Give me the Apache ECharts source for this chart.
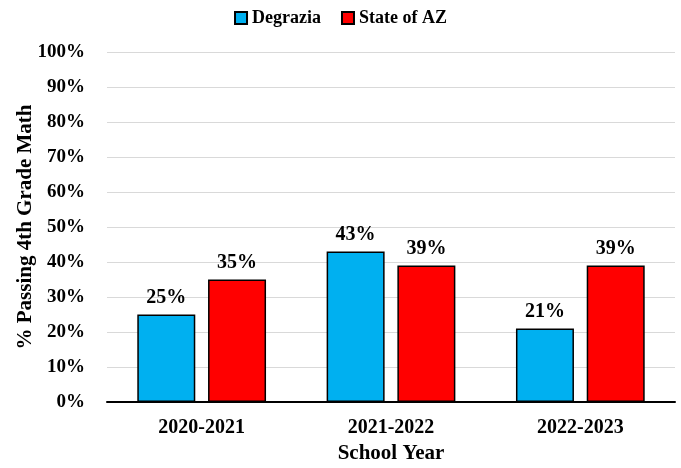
<!DOCTYPE html>
<html><head><meta charset="utf-8">
<script src="https://cdn.jsdelivr.net/npm/echarts@6/dist/echarts.min.js"></script>
<style>html,body{margin:0;padding:0;background:#fff}#c{width:681px;height:468px}</style>
</head><body><div id="c"></div>
<script>
const categories = ['2020-2021', '2021-2022', '2022-2023'];
const degrazia = [25, 43, 21];
const stateAZ = [35, 39, 39];
const seriesNames = ['Degrazia', 'State of AZ'];

const font = 'Liberation Serif, Times New Roman, serif';
const chart = echarts.init(document.getElementById('c'));
const lbl = {show: true, position: 'top', distance: 7, formatter: p => p.value + '%',
  fontFamily: font, fontWeight: 'bold', fontSize: 20, color: '#000'};
chart.setOption({
  animation: false,
  legend: {top: 4, left: 'center', itemWidth: 12, itemHeight: 12, itemGap: 20,
    icon: 'rect',
    textStyle: {fontFamily: font, fontWeight: 'bold', fontSize: 18, color: '#000'},
    data: seriesNames},
  grid: {left: 107, right: 6, top: 52, bottom: 66, containLabel: false, outerBoundsMode: 'none'},
  xAxis: {type: 'category', data: categories,
    name: 'School Year', nameLocation: 'middle', nameGap: 41,
    nameTextStyle: {fontFamily: font, fontWeight: 'bold', fontSize: 21, color: '#000'},
    axisLine: {lineStyle: {color: '#000', width: 2}}, axisTick: {show: false},
    axisLabel: {fontFamily: font, fontWeight: 'bold', fontSize: 20, color: '#000', margin: 16}},
  yAxis: {type: 'value', min: 0, max: 100, interval: 10,
    name: '% Passing 4th Grade Math', nameLocation: 'middle', nameGap: 71, nameMoveOverlap: false,
    nameTextStyle: {fontFamily: font, fontWeight: 'bold', fontSize: 21, color: '#000'},
    axisLine: {show: false}, axisTick: {show: false},
    axisLabel: {formatter: '{value}%', fontFamily: font, fontWeight: 'bold', fontSize: 19, color: '#000', margin: 22},
    splitLine: {lineStyle: {color: '#d9d9d9', width: 1}}},
  series: [
    {name: seriesNames[0], type: 'bar', data: degrazia, barGap: '22%', barCategoryGap: '32%',
      itemStyle: {color: '#00B0F0', borderColor: '#000', borderWidth: 1.5}, label: lbl},
    {name: seriesNames[1], type: 'bar', data: stateAZ,
      itemStyle: {color: '#FF0000', borderColor: '#000', borderWidth: 1.5}, label: lbl}
  ]
});
</script></body></html>
